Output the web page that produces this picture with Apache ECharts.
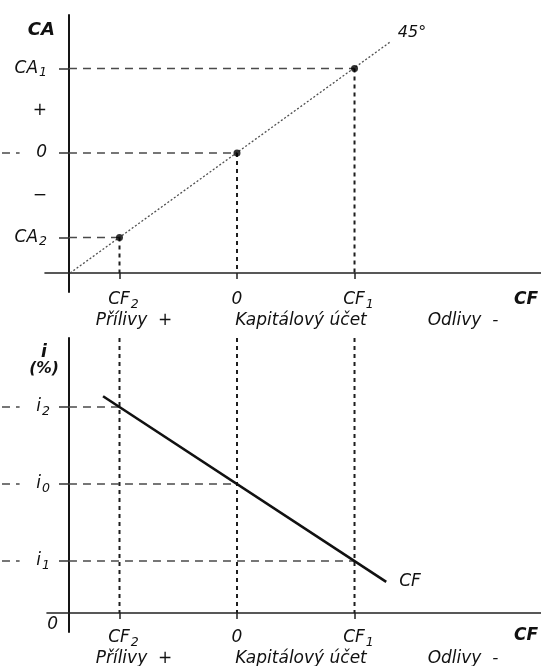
<!DOCTYPE html>
<html><head><meta charset="utf-8">
<script src="https://cdn.jsdelivr.net/npm/echarts@6/dist/echarts.min.js"></script>
<style>html,body{margin:0;padding:0;background:#fff}#c{width:541px;height:666px}</style>
</head><body><div id="c"></div>
<script>
// ---- Data ----
// Capital account axis (CF): CF2, 0, CF1
const cfTicks = [-1, 0, 1];
const cfTickLabels = ['{g|}{m|CF}{s|2}', '{m|0}', '{g|}{m|CF}{s|1}'];
// Row-2 captions under the CF axis
const captionPos = [-0.877, 0.545, 1.923];
const captionText = ['Přílivy  +', 'Kapitálový účet', 'Odlivy  -'];
// Top panel: current account CA
const caTicks = [-1, -0.5, 0, 0.5, 1];
const caTickMarks = [-1, 0, 1];
const caTickLabels = ['{m|CA}{s|2}', '{p|−}', '{m|0}', '{p|+}', '{m|CA}{s|1}'];
const caPoints = [[-1, -1], [0, 0], [1, 1]];
const line45 = [[-1.42, -1.42], [1.30, 1.31]];
const topOrigin = -1.42;           // where the two top axes cross
const topYAxisAt = -1.43;
const topLeftStubs = [0];          // dashed stubs at the far left
// Bottom panel: interest rate i
const iTicks = [-1.82, -1, 0, 1];
const iTickMarks = [-1, 0, 1];
const iTickLabels = ['{m|0}', '{m|i}{s|1}{sp|}', '{m|i}{s|0}{sp|}', '{m|i}{s|2}{sp|}'];
const iPoints = [[-1, 1], [0, 0], [1, -1]];
const cfLine = [[-1.14, 1.14], [1.27, -1.27]];
const botXAxisAt = -1.675;
const botYAxisAt = -1.43;
const botTop = 1.896;
const botLeftStubs = [1, 0, -1];
const stubX = [-2.0, -1.85];

// ---- Styling ----
const F = 'DejaVu Sans';
const INK = '#111';
const rich = {
  m: {fontFamily: F, fontSize: 17, fontStyle: 'italic', color: INK, lineHeight: 22, verticalAlign: 'middle'},
  s: {fontFamily: F, fontSize: 12.5, fontStyle: 'italic', color: INK, lineHeight: 12, verticalAlign: 'bottom', padding: [0, 0, 0, 1]},
  p: {fontFamily: F, fontSize: 17, color: INK, lineHeight: 22},
  g: {width: 8},
  sp: {width: 8}
};
function lookup(vals, texts) {
  return v => { for (let k = 0; k < vals.length; k++) if (Math.abs(vals[k] - v) < 1e-6) return texts[k]; return ''; };
}
const hStyle = {color: '#4a4a4a', width: 1.5, type: [8, 6]};
const vStyle = {color: '#1e1e1e', width: 2, type: [4, 4]};
function seg(xi, yi, data, style) {
  return {type: 'line', xAxisIndex: xi, yAxisIndex: yi, data: data, symbol: 'none', silent: true,
          animation: false, lineStyle: style, z: 1};
}
const series = [];
// top panel guides
caPoints.forEach(p => {
  series.push(seg(0, 0, [[topYAxisAt, p[1]], [p[0], p[1]]], hStyle));
  series.push(seg(0, 0, [[p[0], p[1]], [p[0], topOrigin]], vStyle));
});
topLeftStubs.forEach(y => series.push(seg(4, 2, [[stubX[0], y], [stubX[1], y]], hStyle)));
// 45 degree line
series.push({type: 'line', xAxisIndex: 0, yAxisIndex: 0, data: line45, symbol: 'none', silent: true, animation: false,
  lineStyle: {color: '#505050', width: 1.3, type: [2, 2]}, z: 2,
  endLabel: {show: true, formatter: '45°', fontFamily: F, fontSize: 16, fontStyle: 'italic', color: INK, offset: [0, -9]}});
series.push({type: 'scatter', xAxisIndex: 0, yAxisIndex: 0, data: caPoints, symbolSize: 7,
  itemStyle: {color: '#000'}, silent: true, animation: false, z: 3});
// bottom panel guides
iPoints.forEach(p => {
  series.push(seg(2, 1, [[botYAxisAt, p[1]], [p[0], p[1]]], hStyle));
  series.push(seg(2, 1, [[p[0], botTop], [p[0], botXAxisAt]], vStyle));
});
botLeftStubs.forEach(y => series.push(seg(5, 3, [[stubX[0], y], [stubX[1], y]], hStyle)));
series.push({type: 'line', xAxisIndex: 2, yAxisIndex: 1, data: cfLine, symbol: 'none', silent: true, animation: false,
  lineStyle: {color: '#111', width: 2.6}, z: 3,
  endLabel: {show: true, formatter: 'CF', fontFamily: F, fontSize: 17, fontStyle: 'italic', color: INK, offset: [5, 0]}});

function mainX(gi, min, max, off, margin, namePad) {
  return {gridIndex: gi, type: 'value', min: min, max: max, position: 'bottom', offset: off,
    axisLine: {show: true, onZero: false, lineStyle: {color: '#222', width: 1.6}},
    axisTick: {show: true, customValues: cfTicks, length: 6, lineStyle: {color: '#222', width: 1.5}},
    axisLabel: {show: true, customValues: cfTicks, formatter: lookup(cfTicks, cfTickLabels), margin: margin, rich: rich},
    splitLine: {show: false},
    name: 'CF', nameLocation: 'end', nameGap: -3, nameMoveOverlap: false,
    nameTextStyle: {fontFamily: F, fontSize: 17, fontStyle: 'italic', fontWeight: 'bold', color: INK,
      align: 'right', verticalAlign: 'top', padding: [namePad, 0, 0, 0]}};
}
function capX(gi, min, max, off, margin) {
  return {gridIndex: gi, type: 'value', min: min, max: max, position: 'bottom', offset: off,
    axisLine: {show: false, onZero: false}, axisTick: {show: false}, splitLine: {show: false},
    axisLabel: {show: true, customValues: captionPos, formatter: lookup(captionPos, captionText), margin: margin,
      fontFamily: F, fontSize: 17, fontStyle: 'italic', color: INK, lineHeight: 20}};
}
function hiddenX(gi, min, max) {
  return {gridIndex: gi, type: 'value', min: min, max: max, show: false, splitLine: {show: false}};
}
function hiddenY(gi, min, max) {
  return {gridIndex: gi, type: 'value', min: min, max: max, show: false, splitLine: {show: false}};
}
const option = {
  backgroundColor: '#fff',
  animation: false,
  grid: [
    {left: 45, top: 15, width: 496, height: 277, outerBoundsMode: 'none'},
    {left: 47, top: 338, width: 494, height: 294, outerBoundsMode: 'none'},
    {left: 0, top: 15, width: 45, height: 277, outerBoundsMode: 'none'},
    {left: 0, top: 338, width: 47, height: 294, outerBoundsMode: 'none'}
  ],
  xAxis: [
    mainX(0, -1.634, 2.587, -19, 16, 18),
    capX(0, -1.634, 2.587, -19, 38),
    mainX(1, -1.617, 2.587, -19, 14, 14),
    capX(1, -1.617, 2.587, -19, 36),
    hiddenX(2, -2.017, -1.634),
    hiddenX(3, -2.017, -1.617)
  ],
  yAxis: [
    {gridIndex: 0, type: 'value', min: -1.645, max: 1.633, position: 'left', offset: -24,
      axisLine: {show: true, onZero: false, lineStyle: {color: '#151515', width: 2}},
      axisTick: {show: true, customValues: caTickMarks, length: 10, lineStyle: {color: '#333', width: 1.5}},
      axisLabel: {show: true, customValues: caTicks, formatter: lookup(caTicks, caTickLabels), margin: 22, rich: rich, align: 'right'},
      splitLine: {show: false},
      name: 'CA', nameLocation: 'end', nameGap: -6, nameMoveOverlap: false,
      nameTextStyle: {fontFamily: F, fontSize: 18, fontStyle: 'italic', fontWeight: 'bold', color: INK,
        align: 'right', verticalAlign: 'top', padding: [0, 14, 0, 0]}},
    {gridIndex: 1, type: 'value', min: -1.922, max: 1.896, position: 'left', offset: -22,
      axisLine: {show: true, onZero: false, lineStyle: {color: '#151515', width: 2}},
      axisTick: {show: true, customValues: iTickMarks, length: 10, lineStyle: {color: '#333', width: 1.5}},
      axisLabel: {show: true, customValues: iTicks, formatter: lookup(iTicks, iTickLabels), margin: 11, rich: rich, align: 'right'},
      splitLine: {show: false},
      name: '{a|i}\n{b|(%)}', nameLocation: 'end', nameGap: -7, nameMoveOverlap: false,
      nameTextStyle: {align: 'center', verticalAlign: 'top', padding: [0, 50, 0, 0],
        rich: {a: {fontFamily: F, fontSize: 17, fontStyle: 'italic', fontWeight: 'bold', color: INK, lineHeight: 16, align: 'center'},
               b: {fontFamily: F, fontSize: 15.5, fontStyle: 'italic', fontWeight: 'bold', color: INK, lineHeight: 16, align: 'center'}}}},
    hiddenY(2, -1.645, 1.633),
    hiddenY(3, -1.922, 1.896)
  ],
  series: series
};
const chart = echarts.init(document.getElementById('c'), null, {renderer: 'canvas'});
chart.setOption(option);
</script>
</body></html>
